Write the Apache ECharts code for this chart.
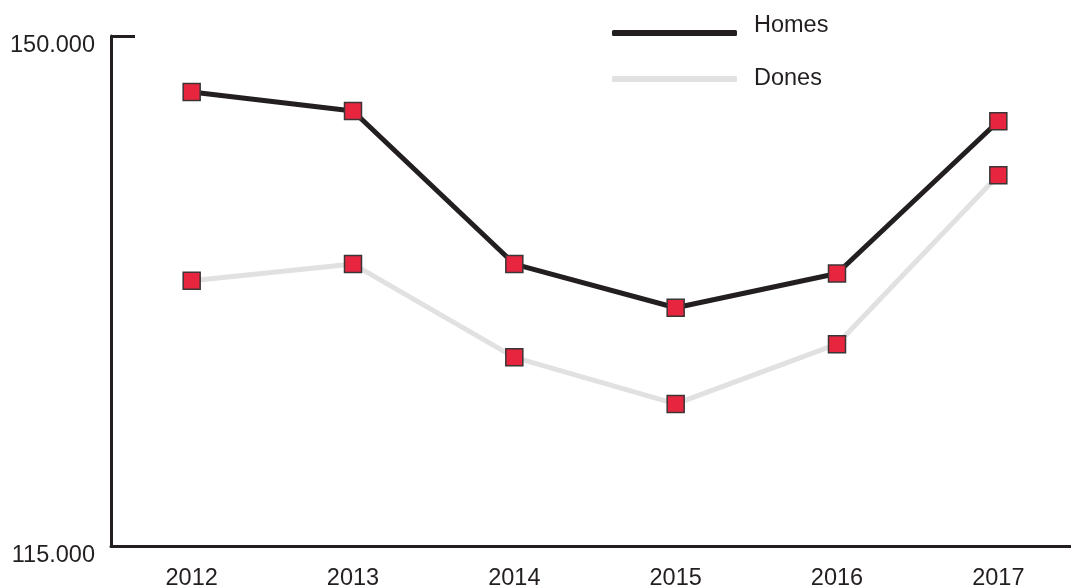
<!DOCTYPE html>
<html>
<head>
<meta charset="utf-8">
<script src="https://cdn.jsdelivr.net/npm/echarts@6/dist/echarts.min.js"></script>
<style>
  html, body { margin: 0; padding: 0; background: #fff; }
  #chart { width: 1071px; height: 588px; }
</style>
</head>
<body>
<div id="chart"></div>
<script>
const years = ["2012", "2013", "2014", "2015", "2016", "2017"];
const homes = [146150, 144850, 134350, 131350, 133700, 144150];
const dones = [133200, 134350, 127950, 124750, 128850, 140450];
const yTicks = [115000, 150000];

const ink = "#231f20";
const font = "Liberation Sans";

const chart = echarts.init(document.getElementById("chart"));

const marker = {
  color: "#e8253f",
  borderColor: "#3b3536",
  borderWidth: 1.5,
};

chart.setOption({
  animation: false,
  textStyle: { fontFamily: font },
  grid: { left: 111, top: 36, height: 510, width: 968, outerBoundsMode: "none", containLabel: false },
  legend: {
    orient: "vertical",
    left: 612,
    top: 14,
    padding: 0,
    itemWidth: 125,
    itemHeight: 6,
    itemGap: 29,
    icon: "roundRect",
    textStyle: {
      fontSize: 23.5,
      color: ink,
      fontFamily: font,
      rich: {
        up: { fontSize: 23.5, color: ink, fontFamily: font, padding: [0, 0, 14, 12] },
        n: { fontSize: 23.5, color: ink, fontFamily: font, padding: [0, 0, 0, 12] },
      },
    },
    formatter: (name) => (name === "Homes" ? "{up|" + name + "}" : "{n|" + name + "}"),
    data: [
      { name: "Homes", itemStyle: { color: ink, borderWidth: 0 } },
      { name: "Dones", itemStyle: { color: "#e1e1e1", borderWidth: 0 } },
    ],
  },
  xAxis: {
    type: "category",
    data: years,
    boundaryGap: true,
    axisLine: { lineStyle: { color: ink, width: 3 } },
    axisTick: { inside: true, length: 12, lineStyle: { color: ink, width: 3 } },
    axisLabel: { fontSize: 23.5, color: ink, margin: 21, fontFamily: font },
    splitLine: { show: false },
  },
  yAxis: {
    type: "value",
    min: 115000,
    max: 150000,
    interval: 5000,
    axisLine: { show: true, lineStyle: { color: ink, width: 3 } },
    axisTick: {
      show: true,
      inside: true,
      length: 24,
      customValues: yTicks,
      lineStyle: { color: ink, width: 3 },
    },
    axisLabel: {
      customValues: yTicks,
      fontSize: 23.5,
      color: ink,
      margin: 16,
      fontFamily: font,
      verticalAlign: "top",
      lineHeight: 20,
      formatter: (v) => (v / 1000).toFixed(3),
    },
    splitLine: { show: false },
  },
  series: [
    {
      name: "Homes",
      type: "line",
      data: homes,
      symbol: "rect",
      symbolSize: 17,
      lineStyle: { color: ink, width: 5 },
      itemStyle: marker,
      z: 3,
    },
    {
      name: "Dones",
      type: "line",
      data: dones,
      symbol: "rect",
      symbolSize: 17,
      lineStyle: { color: "#e1e1e1", width: 5 },
      itemStyle: marker,
      z: 2,
    },
  ],
});
</script>
</body>
</html>
